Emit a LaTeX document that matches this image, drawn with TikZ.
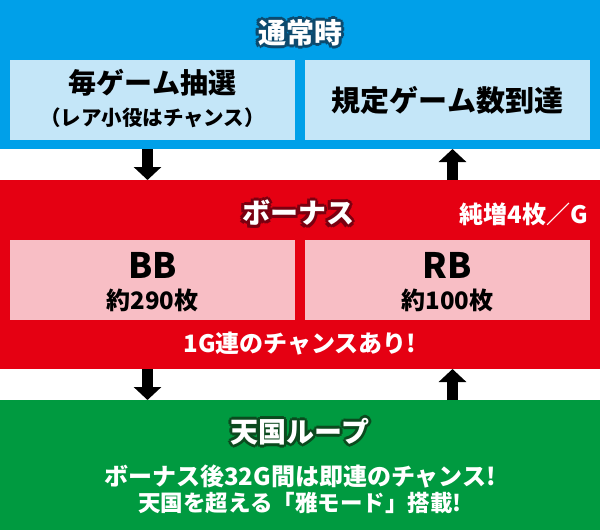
\documentclass[tikz,border=0pt]{standalone}
\usepackage{fontspec}
\usetikzlibrary{arrows.meta}
\newfontfamily\jp{Noto Sans CJK JP}[BoldFont=* Black]
\definecolor{bandblue}{HTML}{00A0E9}
\definecolor{lblue}{HTML}{C4E6F8}
\definecolor{bandred}{HTML}{E50012}
\definecolor{lpink}{HTML}{F8BEC5}
\definecolor{bandgreen}{HTML}{009A40}
\definecolor{dblue}{HTML}{0C4A6E}
\definecolor{dred}{HTML}{7A0010}
\definecolor{dgreen}{HTML}{0B4A1E}
\newcommand\fs[1]{\fontsize{#1}{#1}\selectfont}
\tikzset{
  band/.style={inner sep=0pt, minimum width=600pt, draw=none},
  panel/.style={inner sep=0pt, minimum width=285pt, minimum height=80pt, draw=none},
  txt/.style={inner sep=0pt, font=\jp\bfseries},
  rim/.style={inner sep=0pt, font=\jp\bfseries, text=#1},
  bigarrow/.style={line width=11pt, -{Triangle[width=27pt,length=13pt]}},
}
\begin{document}
\begin{tikzpicture}[x=1pt,y=-1pt]
\useasboundingbox (0,0) rectangle (600,530);
% bands
\node[band, fill=bandblue, minimum height=149pt] (top) at (300,74.5) {};
\node[band, fill=bandred, minimum height=189pt] (mid) at (300,274.5) {};
\node[band, fill=bandgreen, minimum height=130pt] (bot) at (300,465) {};
% panels
\node[panel, fill=lblue] (p1) at (152.5,100) {};
\node[panel, fill=lblue] (p2) at (447.5,100) {};
\node[panel, fill=lpink] (p3) at (152.5,280) {};
\node[panel, fill=lpink] (p4) at (447.5,280) {};
% outlined titles: dark rim copies under white text
\foreach \a [count=\i] in {0,45,...,315}{
  \node[rim=dblue, shift={(\a:3)}] (t1r\i) at (300,33) {\fs{28}通常時};
  \node[rim=dred, shift={(\a:3)}] (t5r\i) at (298,213) {\fs{28}ボーナス};
  \node[rim=dgreen, shift={(\a:3)}] (t12r\i) at (300,432) {\fs{28}天国ループ};
}
\node[txt, text=white] (t1) at (300,33) {\fs{28}通常時};
\node[txt, text=white] (t5) at (298,213) {\fs{28}ボーナス};
\node[txt, text=white] (t12) at (300,432) {\fs{28}天国ループ};
% texts
\node[txt] (t2) at (152.5,83) {\fs{28}毎ゲーム抽選};
\node[txt] (t3) at (152.5,118) {\fs{20.5}（レア小役はチャンス）};
\node[txt] (t4) at (447.5,100) {\fs{29}規定ゲーム数到達};
\node[txt, anchor=east, text=white] (t6) at (588,214) {\fs{24}純増4枚／G};
\node[txt] (t7) at (152.5,265) {\fs{35}BB};
\node[txt] (t8) at (152.5,300) {\fs{24}約290枚};
\node[txt] (t9) at (447.5,265) {\fs{35}RB};
\node[txt] (t10) at (447.5,300) {\fs{24}約100枚};
\node[txt, text=white] (t11) at (300,344) {\fs{24}1G連のチャンスあり!};
\node[txt, text=white] (t13) at (300,476) {\fs{24}ボーナス後32G間は即連のチャンス!};
\node[txt, text=white] (t14) at (300,503) {\fs{22.5}天国を超える「雅モード」搭載!};
% arrows
\coordinate (a1s) at (147.5,149);
\coordinate (a1e) at (147.5,180);
\coordinate (a2s) at (452.5,180);
\coordinate (a2e) at (452.5,149);
\coordinate (a3s) at (147.5,369);
\coordinate (a3e) at (147.5,400);
\coordinate (a4s) at (452.5,400);
\coordinate (a4e) at (452.5,369);
\draw[bigarrow] (a1s) -- (a1e);
\draw[bigarrow] (a2s) -- (a2e);
\draw[bigarrow] (a3s) -- (a3e);
\draw[bigarrow] (a4s) -- (a4e);
\end{tikzpicture}
\end{document}
